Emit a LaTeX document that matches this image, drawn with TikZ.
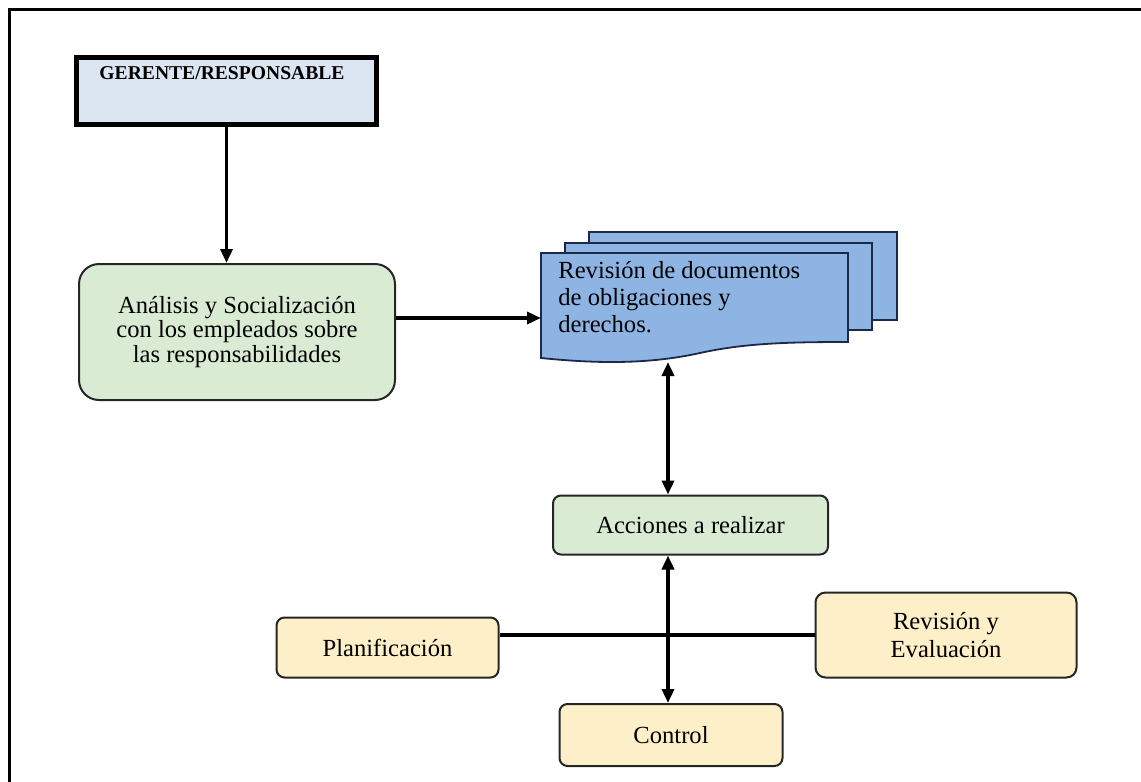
\documentclass[tikz,border=0pt]{standalone}
\usepackage{fontspec}
\setmainfont{Liberation Serif}
\usepackage{xcolor}
\usepackage{tikz}
\usetikzlibrary{arrows.meta,positioning,calc}
\definecolor{gerblue}{HTML}{DCE6F2}
\definecolor{boxgreen}{HTML}{DAEBD4}
\definecolor{boxyellow}{HTML}{FDF0C8}
\definecolor{docblue}{HTML}{8EB4E3}
\definecolor{docline}{HTML}{1C2A48}

\begin{document}
\begin{tikzpicture}[x=0.5pt,y=-0.5pt,font=\fontsize{12.3}{11}\selectfont,
  rbox/.style={draw=black!85,line width=1pt,rounded corners=4pt,align=center,inner sep=2pt},
  greenbox/.style={rbox,fill=boxgreen},
  yellowbox/.style={rbox,fill=boxyellow},
  docpage/.style={draw=docline,line width=0.9pt,fill=docblue},
  link/.style={line width=1.7pt},
  arr/.style={link,-{Triangle[length=7pt,width=6pt]}},
  darr/.style={link,{Triangle[length=7pt,width=6pt]}-{Triangle[length=7pt,width=6pt]}}]
\useasboundingbox (0,0) rectangle (1141,782);
% frame
\draw[line width=1.5pt] (9,782) -- (9,9) -- (1141,9);
% boxes
\node[draw,line width=2.5pt,fill=gerblue,minimum width=150pt,minimum height=33.5pt] (ger) at (226.5,91) {};
\node[font=\bfseries\fontsize{9.8}{11}\selectfont] (gerlbl) at (222,73) {GERENTE/RESPONSABLE};
\node[greenbox,rounded corners=10pt,minimum width=158pt,minimum height=68pt] (ana) at (237,332) {Análisis y Socialización\\con los empleados sobre\\las responsabilidades};
\node[greenbox,minimum width=137.5pt,minimum height=29.5pt] (acc) at (690.5,525) {Acciones a realizar};
\node[yellowbox,minimum width=111pt,minimum height=30pt] (plan) at (387.5,647.5) {Planificación};
\node[yellowbox,minimum width=111.5pt,minimum height=31pt] (ctrl) at (671,735) {Control};
\node[yellowbox,rounded corners=5pt,minimum width=130.5pt,minimum height=42.5pt,font=\fontsize{12.3}{14}\selectfont] (rev) at (946,635) {Revisión y\\Evaluación};
% document stack
\draw[docpage] (589,232) rectangle (897,320);
\draw[docpage] (565,243) rectangle (872,330);
\draw[docpage] (541,253) -- (848,253) -- (848,342) .. controls (790,342) and (745,343) .. (700,353) .. controls (650,364) and (600,364) .. (541,358) -- cycle;
\node[anchor=north west,align=left,inner sep=0pt,font=\fontsize{12.3}{13.5}\selectfont] (doc) at (558,261) {Revisión de documentos\\de obligaciones y\\derechos.};
\coordinate (docin) at (541,318);
\coordinate (docbot) at (668,362);
% connectors
\draw[arr] (ger.south) -- (ger.south |- ana.north);
\draw[arr] (ana.east |- docin) -- (docin);
\draw[darr] (docbot) -- (docbot |- acc.north);
\draw[darr] (acc.south -| docbot) -- (ctrl.north -| docbot);
\draw[link] (plan.east |- rev.west) -- (rev.west);
\end{tikzpicture}
\end{document}
